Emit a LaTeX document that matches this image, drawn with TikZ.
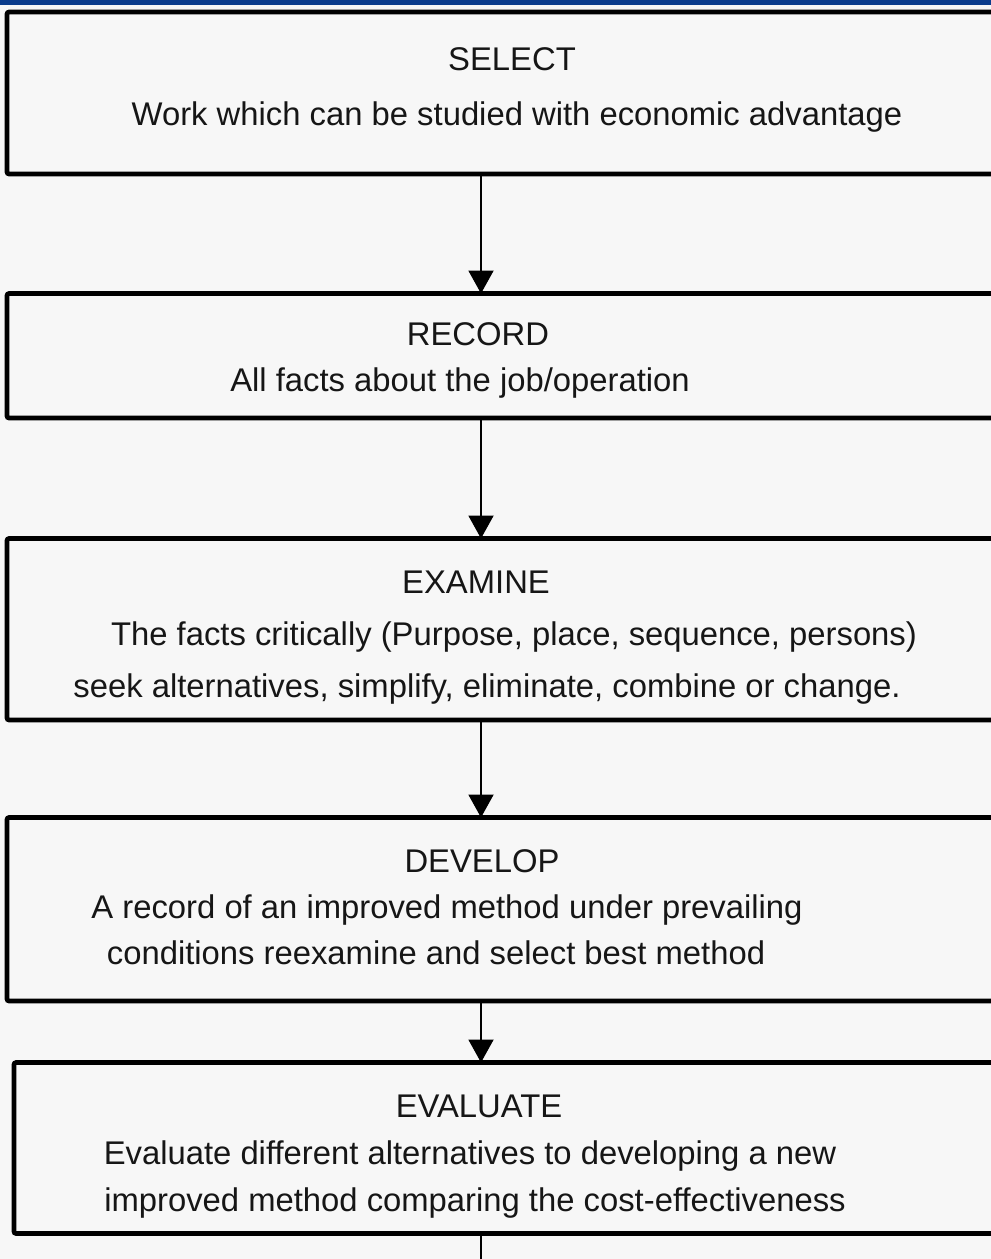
\documentclass[tikz,border=0pt]{standalone}
\usepackage{fontspec}
\setmainfont{Liberation Sans}
\usetikzlibrary{arrows.meta}
\definecolor{bg}{HTML}{F7F7F7}
\definecolor{topbar}{HTML}{0A3C8C}
\definecolor{ink}{HTML}{161616}
\begin{document}
\begin{tikzpicture}[x=1pt,y=-1pt,
  box/.style={draw=black, line width=4.6pt, fill=bg, rectangle, rounded corners=2pt,
    anchor=north west, inner sep=0pt, outer sep=0pt},
  txt/.style={anchor=base, inner sep=0pt, text=ink, font=\fontsize{32.8}{40}\selectfont},
  arr/.style={draw=black, line width=2pt, -{Triangle[width=25pt,length=23pt]}},
  stub/.style={draw=black, line width=2pt}]
\useasboundingbox (0,0) rectangle (991,1259);
\clip (0,0) rectangle (991,1259);
\fill[bg] (0,0) rectangle (991,1259);
\fill[topbar] (0,0) rectangle (991,4.5);

\node[box, minimum width=1010pt, minimum height=162pt] (b1) at (7,12) {};
\node[box, minimum width=1010pt, minimum height=124.5pt] (b2) at (7,293.5) {};
\node[box, minimum width=1010pt, minimum height=181.5pt] (b3) at (7,538.5) {};
\node[box, minimum width=1010pt, minimum height=183.5pt] (b4) at (7,817.5) {};
\node[box, minimum width=1010pt, minimum height=171pt] (b5) at (14,1062.5) {};

\node[txt] (t1a) at (512,70) {SELECT};
\node[txt] (t1b) at (517,125) {Work which can be studied with economic advantage};

\node[txt] (t2a) at (478,345) {RECORD};
\node[txt] (t2b) at (460,391) {All facts about the job/operation};

\node[txt] (t3a) at (476,593) {EXAMINE};
\node[txt] (t3b) at (514,645) {The facts critically (Purpose, place, sequence, persons)};
\node[txt] (t3c) at (487,697) {seek alternatives, simplify, eliminate, combine or change.};

\node[txt] (t4a) at (482,872) {DEVELOP};
\node[txt] (t4b) at (447,918) {A record of an improved method under prevailing};
\node[txt] (t4c) at (436,964) {conditions reexamine and select best method};

\node[txt] (t5a) at (479,1117) {EVALUATE};
\node[txt] (t5b) at (470,1164) {Evaluate different alternatives to developing a new};
\node[txt] (t5c) at (475,1211) {improved method comparing the cost-effectiveness};

\coordinate (ax) at (481,0);
\coordinate (end) at (481,1270);
\draw[arr] (b1.south -| ax) -- (b2.north -| ax);
\draw[arr] (b2.south -| ax) -- (b3.north -| ax);
\draw[arr] (b3.south -| ax) -- (b4.north -| ax);
\draw[arr] (b4.south -| ax) -- (b5.north -| ax);
\draw[stub] (b5.south -| ax) -- (end);
\end{tikzpicture}
\end{document}
